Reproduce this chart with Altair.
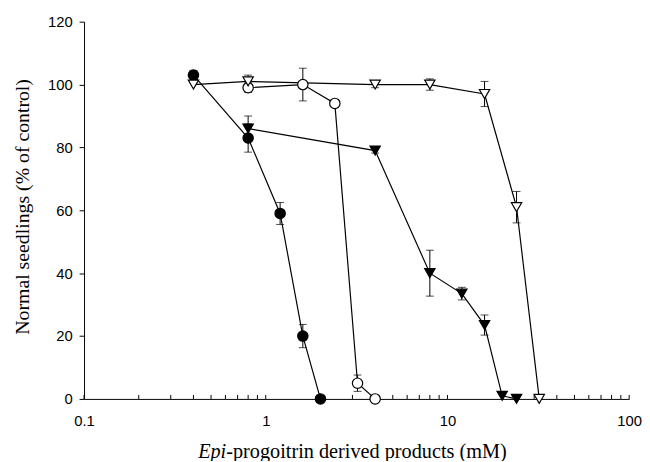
import altair as alt
import pandas as pd

# ---- data ----
# filled circles
fc_x = [0.4, 0.8, 1.2, 1.6, 2.0]
fc_y = [103, 83, 59, 20, 0]
fc_e = [1.5, 4.5, 3.5, 3.7, 0]
# open circles
oc_x = [0.8, 1.6, 2.4, 3.2, 4.0]
oc_y = [99, 100, 94, 5, 0]
oc_e = [1.5, 5.2, 1.2, 2.6, 0]
# filled down-triangles
ft_x = [0.8, 4, 8, 12, 16, 20, 24]
ft_y = [86, 79, 40, 33.5, 23.5, 1, 0]
ft_e = [4, 0.8, 7.3, 2, 3.2, 0, 0]
# open down-triangles
ot_x = [0.4, 0.8, 4, 8, 16, 24, 32]
ot_y = [100, 101, 100, 100, 97, 61, 0]
ot_e = [0, 2, 1, 1.8, 4, 5, 0]

series_names = ["filled circle", "open circle", "filled triangle", "open triangle"]
series_shapes = ["circle", "circle", "triangle-down", "triangle-down"]
series_fills = ["black", "white", "black", "white"]

x_ticks = [0.1, 0.2, 0.3, 0.4, 0.5, 0.6, 0.7, 0.8, 0.9,
           1, 2, 3, 4, 5, 6, 7, 8, 9,
           10, 20, 30, 40, 50, 60, 70, 80, 90, 100]
y_ticks = [0, 20, 40, 60, 80, 100, 120]

rows = []
for name, xs, ys, es in zip(series_names, [fc_x, oc_x, ft_x, ot_x],
                            [fc_y, oc_y, ft_y, ot_y], [fc_e, oc_e, ft_e, ot_e]):
    for x, y, e in zip(xs, ys, es):
        rows.append({"series": name, "x": x, "y": y, "e": e, "lo": y - e, "hi": y + e})
df = pd.DataFrame(rows)
err = df[df.e > 0]

W, H = 552, 382
xscale = alt.Scale(type="log", domain=[0.1, 100])
yscale = alt.Scale(domain=[0, 120], nice=False)

label_expr = "indexof([0.1, 1, 10, 100], datum.value) >= 0 ? format(datum.value, '~g') : ''"
xaxis = alt.Axis(values=x_ticks, labelExpr=label_expr, ticks=False, tickSize=0, grid=False,
                 domainColor="black", domainWidth=1, labelFont="Liberation Sans",
                 labelFontSize=15, labelColor="black", labelPadding=15, title=None,
                 labelFlush=False, labelOverlap=False)
yaxis = alt.Axis(values=y_ticks, tickSize=5, tickColor="black", domainColor="black",
                 domainWidth=1, grid=False, labelFont="Liberation Sans", labelFontSize=15,
                 labelColor="black", labelPadding=7,
                 title="Normal seedlings (% of control)", titleFont="Liberation Serif",
                 titleFontSize=20, titleFontWeight="normal", titleColor="black",
                 titleAngle=270, titleX=-62, titleY=187, titleAlign="center",
                 titleBaseline="middle")

lines = alt.Chart(df).mark_line(color="black", strokeWidth=1.2).encode(
    x=alt.X("x:Q", scale=xscale, axis=xaxis),
    y=alt.Y("y:Q", scale=yscale, axis=yaxis),
    detail="series:N",
    order="x:Q",
)

minor = alt.Chart(pd.DataFrame({"x": x_ticks})).mark_rule(color="black", strokeWidth=1).encode(
    x=alt.X("x:Q", scale=xscale, axis=xaxis),
    y=alt.value(H),
    y2=alt.value(H - 4),
)

bars = alt.Chart(err).mark_rule(color="black", strokeWidth=1).encode(
    x=alt.X("x:Q", scale=xscale, axis=xaxis),
    y=alt.Y("lo:Q", scale=yscale, axis=yaxis),
    y2="hi:Q",
)
cap_hi = alt.Chart(err).mark_tick(color="black", orient="horizontal", size=8, thickness=1).encode(
    x=alt.X("x:Q", scale=xscale, axis=xaxis),
    y=alt.Y("hi:Q", scale=yscale, axis=yaxis),
)
cap_lo = alt.Chart(err).mark_tick(color="black", orient="horizontal", size=8, thickness=1).encode(
    x=alt.X("x:Q", scale=xscale, axis=xaxis),
    y=alt.Y("lo:Q", scale=yscale, axis=yaxis),
)

points = alt.Chart(df).mark_point(filled=True, stroke="black", strokeWidth=1.2, size=110,
                                  opacity=1, fillOpacity=1).encode(
    x=alt.X("x:Q", scale=xscale, axis=xaxis),
    y=alt.Y("y:Q", scale=yscale, axis=yaxis),
    shape=alt.Shape("series:N", scale=alt.Scale(domain=series_names, range=series_shapes), legend=None),
    fill=alt.Fill("series:N", scale=alt.Scale(domain=series_names, range=series_fills), legend=None),
)

one = pd.DataFrame({"a": [0]})
t_epi = alt.Chart(one).mark_text(text="Epi", font="Liberation Serif", fontSize=20.5,
                                 fontStyle="italic", align="right", baseline="alphabetic",
                                 color="black").encode(x=alt.value(144), y=alt.value(442))
t_rest = alt.Chart(one).mark_text(text="-progoitrin derived products (mM)", font="Liberation Serif",
                                  fontSize=20.5, align="left", baseline="alphabetic",
                                  color="black").encode(x=alt.value(144), y=alt.value(442))

chart = alt.layer(lines, minor, bars, cap_hi, cap_lo, points, t_epi, t_rest).properties(
    width=W, height=H,
    autosize=alt.AutoSizeParams(type="none"),
    padding={"left": 77, "top": 11, "right": 13, "bottom": 60},
).configure_view(stroke=None)

chart.save("out.html", embed_options={"renderer": "svg", "actions": False})
